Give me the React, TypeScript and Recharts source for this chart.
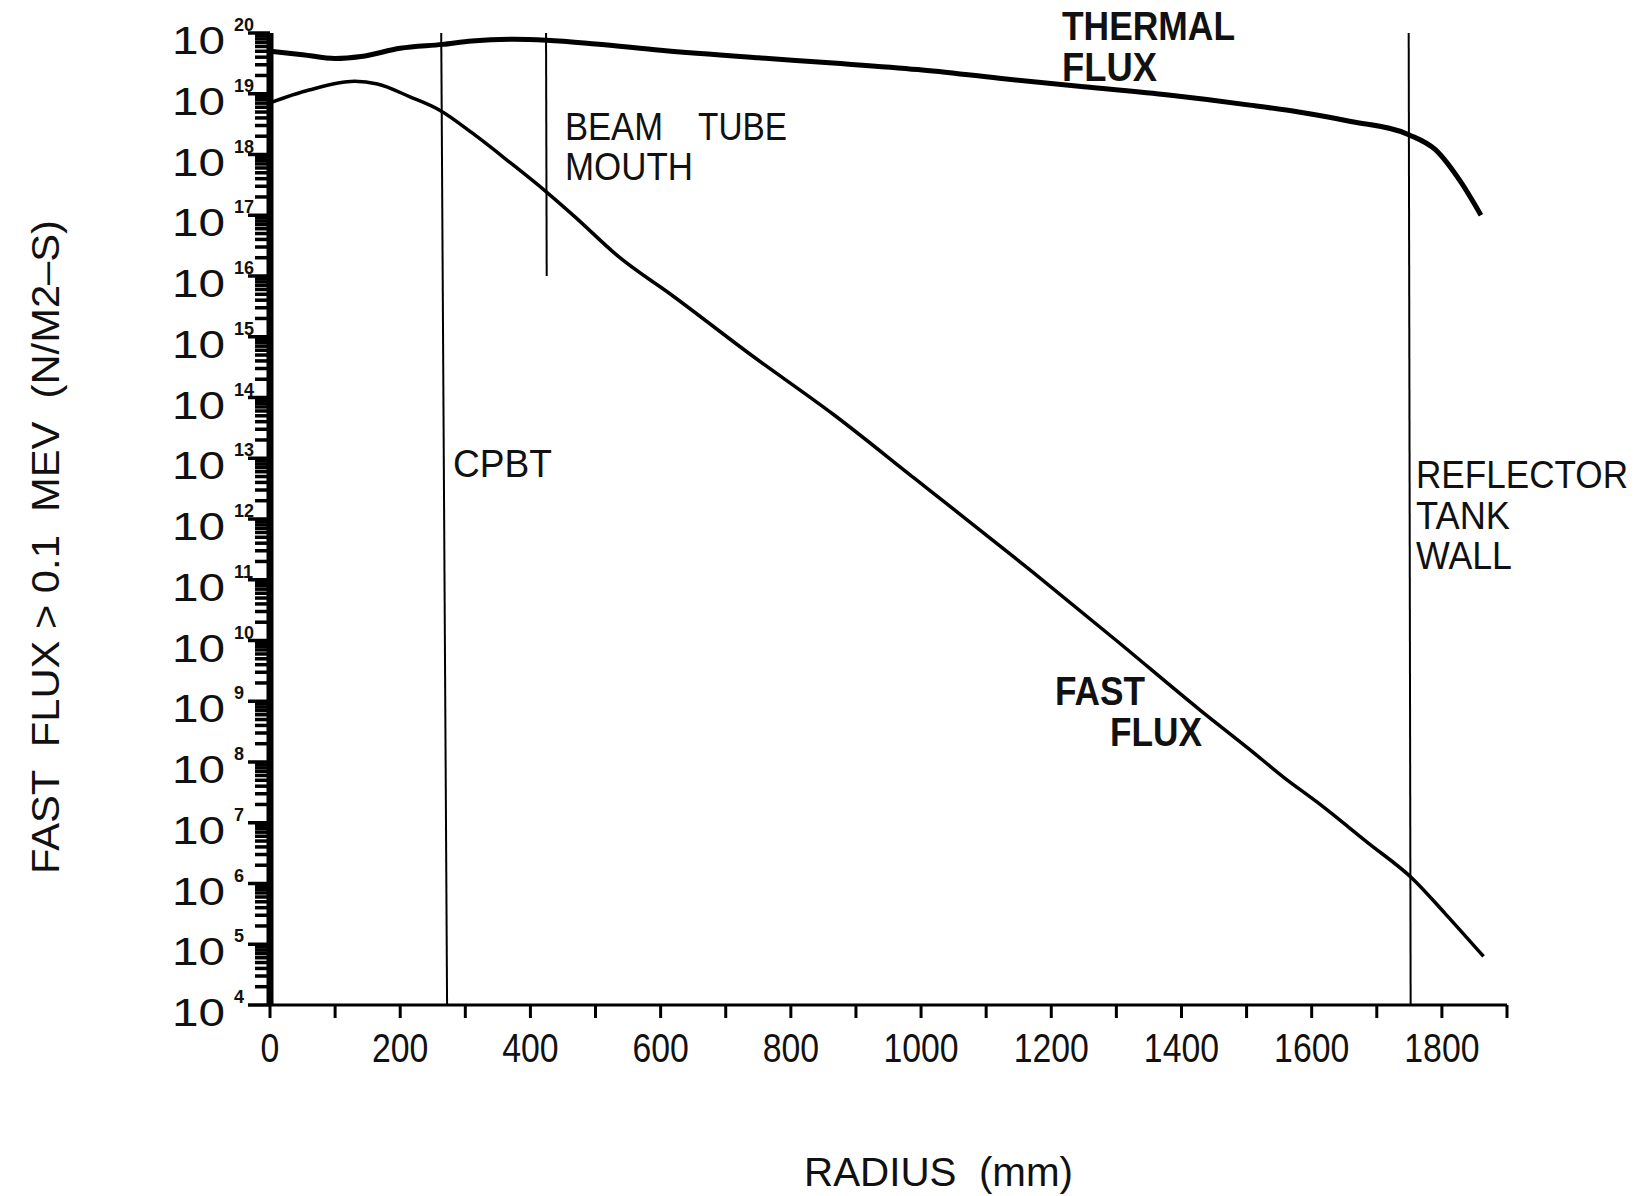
import { Line, LineChart, ReferenceLine, XAxis, YAxis } from "recharts";

// radius in mm, flux in n/m2-s
const thermalRadius = [0, 50, 100, 140, 200, 265, 310, 375, 425, 500, 600, 750, 865, 995, 1120, 1250, 1380, 1505, 1580, 1660, 1750, 1790, 1830, 1860];
const thermalFlux = [5.0e19, 4.4e19, 3.8e19, 4.1e19, 5.6e19, 6.5e19, 7.4e19, 7.9e19, 7.6e19, 6.6e19, 5.2e19, 3.9e19, 3.2e19, 2.5e19, 1.8e19, 1.3e19, 9.5e18, 6.5e18, 5.0e18, 3.5e18, 2.1e18, 1.2e18, 3.4e17, 1.0e17];

const fastRadius = [0, 60, 130, 165, 215, 260, 312, 370, 423, 468, 535, 620, 737, 865, 993, 1045, 1173, 1300, 1429, 1505, 1557, 1608, 1685, 1755, 1805, 1864];
const fastFlux = [7.1e18, 1.15e19, 1.6e19, 1.45e19, 8.9e18, 5.4e18, 2.2e18, 7.2e17, 2.5e17, 9.5e16, 2.1e16, 4.6e15, 5.2e14, 5.3e13, 4.4e12, 1.6e12, 1.3e11, 1.0e10, 7.1e8, 1.6e8, 5.6e7, 2.2e7, 4.8e6, 1.2e6, 3.2e5, 6.3e4];

const xTicks = [0, 100, 200, 300, 400, 500, 600, 700, 800, 900, 1000, 1100, 1200, 1300, 1400, 1500, 1600, 1700, 1800, 1900];
const xLabelled = [0, 200, 400, 600, 800, 1000, 1200, 1400, 1600, 1800];
const yExponents = [4, 5, 6, 7, 8, 9, 10, 11, 12, 13, 14, 15, 16, 17, 18, 19, 20];

// marker lines: CPBT, beam tube mouth, reflector tank wall
const cpbtRadius = [263, 272];
const beamTubeRadius = [424, 425];
const beamTubeBottom = 1e16;
const reflectorRadius = [1749, 1752];

const thermalData = thermalRadius.map((radius, i) => ({ radius, flux: thermalFlux[i] }));
const fastData = fastRadius.map((radius, i) => ({ radius, flux: fastFlux[i] }));

const yTicks: number[] = [];
yExponents.forEach((e, i) => {
  yTicks.push(Math.pow(10, e));
  if (i < yExponents.length - 1) {
    for (let m = 2; m <= 9; m++) yTicks.push(m * Math.pow(10, e));
  }
});

const FONT = '"Liberation Sans", Arial, Helvetica, sans-serif';

function YTick(props: any) {
  const { x, y, payload } = props;
  const lg = Math.log10(payload.value);
  const exp = Math.round(lg);
  const major = Math.abs(lg - exp) < 1e-6;
  return (
    <g>
      <line x1={x - (major ? 22 : 15)} x2={x} y1={y} y2={y} stroke="#000" strokeWidth={3.5} />
      {major && (
        <>
          <text x={x - 45} y={y + 21} textAnchor="end" fontSize={38} fontFamily={FONT} fill="#111" textLength={53} lengthAdjust="spacingAndGlyphs">
            10
          </text>
          <text x={x - 36} y={y - 2} fontSize={18} fontWeight="bold" fontFamily={FONT} fill="#111">
            {exp}
          </text>
        </>
      )}
    </g>
  );
}

function XTick(props: any) {
  const { x, y, payload } = props;
  if (!xLabelled.includes(payload.value)) return <g />;
  const label = String(payload.value);
  return (
    <text x={x} y={y + 36} textAnchor="middle" fontSize={40} fontFamily={FONT} fill="#111" textLength={label.length * 18.8} lengthAdjust="spacingAndGlyphs">
      {label}
    </text>
  );
}

const textStyle = { fontFamily: FONT, fill: "#111" };

export default function App() {
  return (
    <div style={{ position: "absolute", left: 0, top: 0, width: 1642, height: 1196, background: "#fff" }}>
      <LineChart width={1642} height={1196} margin={{ top: 33, right: 135, bottom: 91, left: 0 }}>
        <XAxis
          dataKey="radius"
          type="number"
          domain={[0, 1900]}
          ticks={xTicks}
          interval={0}
          allowDataOverflow
          height={100}
          tickSize={13}
          tickMargin={8}
          axisLine={{ stroke: "#000", strokeWidth: 3 }}
          tickLine={{ stroke: "#000", strokeWidth: 3 }}
          tick={<XTick />}
        />
        <YAxis
          type="number"
          scale="log"
          domain={[1e4, 1e20]}
          ticks={yTicks}
          interval={0}
          allowDataOverflow
          width={270}
          tickSize={0}
          tickMargin={0}
          tickLine={false}
          axisLine={{ stroke: "#000", strokeWidth: 7 }}
          tick={<YTick />}
        />
        <ReferenceLine segment={[{ x: cpbtRadius[0], y: 1e20 }, { x: cpbtRadius[1], y: 1e4 }]} stroke="#000" strokeWidth={2} />
        <ReferenceLine segment={[{ x: beamTubeRadius[0], y: 1e20 }, { x: beamTubeRadius[1], y: beamTubeBottom }]} stroke="#000" strokeWidth={2} />
        <ReferenceLine segment={[{ x: reflectorRadius[0], y: 1e20 }, { x: reflectorRadius[1], y: 1e4 }]} stroke="#000" strokeWidth={2} />
        <Line data={thermalData} dataKey="flux" type="monotone" stroke="#000" strokeWidth={5} dot={false} isAnimationActive={false} />
        <Line data={fastData} dataKey="flux" type="monotone" stroke="#000" strokeWidth={3.5} dot={false} isAnimationActive={false} />
      </LineChart>
      <svg width={1642} height={1196} style={{ position: "absolute", left: 0, top: 0, pointerEvents: "none" }}>
        <text x={1062} y={40} fontSize={40} fontWeight="bold" style={textStyle} textLength={173} lengthAdjust="spacingAndGlyphs">THERMAL</text>
        <text x={1062} y={81} fontSize={40} fontWeight="bold" style={textStyle} textLength={95} lengthAdjust="spacingAndGlyphs">FLUX</text>
        <text x={565} y={140} fontSize={38} style={textStyle} textLength={98} lengthAdjust="spacingAndGlyphs">BEAM</text>
        <text x={698} y={140} fontSize={38} style={textStyle} textLength={89} lengthAdjust="spacingAndGlyphs">TUBE</text>
        <text x={565} y={180} fontSize={38} style={textStyle} textLength={128} lengthAdjust="spacingAndGlyphs">MOUTH</text>
        <text x={453} y={477} fontSize={38} style={textStyle} textLength={99} lengthAdjust="spacingAndGlyphs">CPBT</text>
        <text x={1416} y={488} fontSize={38} style={textStyle} textLength={212} lengthAdjust="spacingAndGlyphs">REFLECTOR</text>
        <text x={1416} y={529} fontSize={38} style={textStyle} textLength={94} lengthAdjust="spacingAndGlyphs">TANK</text>
        <text x={1416} y={569} fontSize={38} style={textStyle} textLength={96} lengthAdjust="spacingAndGlyphs">WALL</text>
        <text x={1055} y={705} fontSize={40} fontWeight="bold" style={textStyle} textLength={90} lengthAdjust="spacingAndGlyphs">FAST</text>
        <text x={1110} y={746} fontSize={40} fontWeight="bold" style={textStyle} textLength={92} lengthAdjust="spacingAndGlyphs">FLUX</text>
        <text x={804} y={1186} fontSize={40} style={{ ...textStyle, whiteSpace: "pre" }} textLength={269} lengthAdjust="spacingAndGlyphs">RADIUS  (mm)</text>
        <text
          x={0}
          y={0}
          transform="translate(59, 547) rotate(-90)"
          textAnchor="middle"
          fontSize={38}
          style={{ ...textStyle, whiteSpace: "pre" }}
          textLength={654}
          lengthAdjust="spacingAndGlyphs"
        >
          FAST  FLUX &gt; 0.1  MEV  (N/M2–S)
        </text>
      </svg>
    </div>
  );
}
